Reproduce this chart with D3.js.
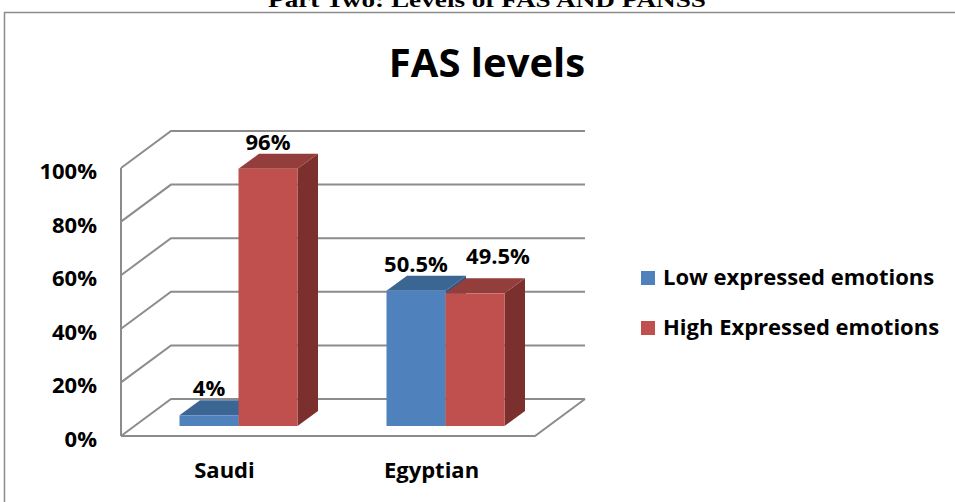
<!DOCTYPE html>
<html>
<head>
<meta charset="utf-8">
<script src="https://cdn.jsdelivr.net/npm/d3@7"></script>
<style>
  body { margin: 0; background: #fff; }
  svg { display: block; }
  text { font-family: "Open Sans", "Noto Sans", sans-serif; font-weight: bold; fill: #000; }
</style>
</head>
<body>
<svg></svg>
<script>
// chart data
var categories = ["Saudi", "Egyptian"]
var seriesNames = ["Low expressed emotions", "High Expressed emotions"]
var lowValues = [0.04, 0.505]
var highValues = [0.96, 0.495]
var yTicks = [0, 0.2, 0.4, 0.6, 0.8, 1]

var colors = {
    front: ["#4F81BD", "#C0504D"],
    top: ["#3B6593", "#943E3C"],
    side: ["#345681", "#7B302E"]
}

var dimensions = {
    width: 955,
    height: 502,
    plotLeft: 121,
    plotRight: 535,
    depthX: 50,   // depth of the walls
    depthY: -37
}

var svg = d3.select("svg")
    .attr("width", dimensions.width)
    .attr("height", dimensions.height)

// frame round the figure
svg.append("path")
    .attr("d", "M4.5,502 L4.5,12.5 L955,12.5")
    .attr("fill", "none")
    .attr("stroke", "#8c8c8c")
    .attr("stroke-width", 1.5)

// heading of the page, cut off at the top as in the original
svg.append("text")
    .attr("x", 487)
    .attr("y", 7)
    .attr("text-anchor", "middle")
    .attr("textLength", 438)
    .attr("lengthAdjust", "spacingAndGlyphs")
    .style("font-family", "'Liberation Serif', serif")
    .style("font-size", "22px")
    .text("Part Two: Levels of FAS AND PANSS")

svg.append("text")
    .attr("x", 487)
    .attr("y", 77)
    .attr("text-anchor", "middle")
    .style("font-size", "40px")
    .text("FAS levels")

var x = d3.scaleBand()
    .domain(categories)
    .range([dimensions.plotLeft, dimensions.plotRight])

var xInner = d3.scaleBand()
    .domain(seriesNames)
    .range([45, 163])

var y = d3.scaleLinear()
    .domain([0, 1])
    .range([436, 168])

var dx = dimensions.depthX, dy = dimensions.depthY

// walls and gridlines
var grid = svg.append("g")
    .attr("fill", "none")
    .attr("stroke", "#8c8c8c")
    .attr("stroke-width", 2)

grid.selectAll(".gridline")
    .data(yTicks)
    .enter()
    .append("polyline")
    .attr("class", "gridline")
    .attr("points", d => [
        [dimensions.plotLeft, y(d)],
        [dimensions.plotLeft + dx, y(d) + dy],
        [dimensions.plotRight + dx, y(d) + dy]
    ].join(" "))

grid.append("line")
    .attr("x1", dimensions.plotLeft).attr("x2", dimensions.plotLeft)
    .attr("y1", y(1)).attr("y2", y(0))

grid.append("polyline")
    .attr("points", [
        [dimensions.plotLeft, y(0)],
        [dimensions.plotRight, y(0)],
        [dimensions.plotRight + dx, y(0) + dy]
    ].join(" "))

svg.selectAll(".tick-label")
    .data(yTicks)
    .enter()
    .append("text")
    .attr("class", "tick-label")
    .attr("x", 97)
    .attr("y", d => y(d) + 11)
    .attr("text-anchor", "end")
    .style("font-size", "22px")
    .text(d3.format(".0%"))

svg.selectAll(".cat-label")
    .data(categories)
    .enter()
    .append("text")
    .attr("class", "cat-label")
    .attr("x", d => x(d) + x.bandwidth() / 2)
    .attr("y", 478)
    .attr("text-anchor", "middle")
    .style("font-size", "22px")
    .text(d => d)

// bars sit part way into the floor
var barOffX = 13.5, barOffY = -10
var barDepthX = 20.5, barDepthY = -15

var bars = []
categories.forEach((c, i) => {
    bars.push({cat: c, s: 0, value: lowValues[i]})
    bars.push({cat: c, s: 1, value: highValues[i]})
})

var fmt = d3.format(".1~%")

var barG = svg.selectAll(".bar")
    .data(bars)
    .enter()
    .append("g")
    .attr("class", "bar")

barG.each(function(d) {
    var g = d3.select(this)
    var x0 = x(d.cat) + xInner(seriesNames[d.s]) + barOffX
    var x1 = x0 + xInner.bandwidth()
    var yb = y(0) + barOffY
    var yt = y(d.value) + barOffY

    g.append("polygon")
        .attr("points", [[x1, yb], [x1 + barDepthX, yb + barDepthY], [x1 + barDepthX, yt + barDepthY], [x1, yt]].join(" "))
        .attr("fill", colors.side[d.s])
    g.append("polygon")
        .attr("points", [[x0, yt], [x0 + barDepthX, yt + barDepthY], [x1 + barDepthX, yt + barDepthY], [x1, yt]].join(" "))
        .attr("fill", colors.top[d.s])
    g.append("rect")
        .attr("x", x0)
        .attr("y", yt)
        .attr("width", x1 - x0)
        .attr("height", yb - yt)
        .attr("fill", colors.front[d.s])
})

// the 49.5% label is pushed up and right in the original so it does not clash
svg.selectAll(".value-label")
    .data(bars)
    .enter()
    .append("text")
    .attr("class", "value-label")
    .attr("x", d => {
        var cx = x(d.cat) + xInner(seriesNames[d.s]) + barOffX + xInner.bandwidth() / 2
        return (d.cat == "Egyptian" && d.s == 1) ? cx + 23 : cx
    })
    .attr("y", d => {
        var yt = y(d.value) + barOffY - 19
        return (d.cat == "Egyptian" && d.s == 1) ? yt - 10 : yt
    })
    .attr("text-anchor", "middle")
    .style("font-size", "22px")
    .text(d => fmt(d.value))

// legend
var legend = svg.selectAll(".legend")
    .data(seriesNames)
    .enter()
    .append("g")
    .attr("class", "legend")
    .attr("transform", (d, i) => "translate(641," + (271 + i * 50) + ")")

legend.append("rect")
    .attr("width", 14)
    .attr("height", 14)
    .attr("fill", (d, i) => colors.front[i])

legend.append("text")
    .attr("x", 22)
    .attr("y", 14)
    .style("font-size", "22px")
    .text(d => d)
</script>
</body>
</html>
